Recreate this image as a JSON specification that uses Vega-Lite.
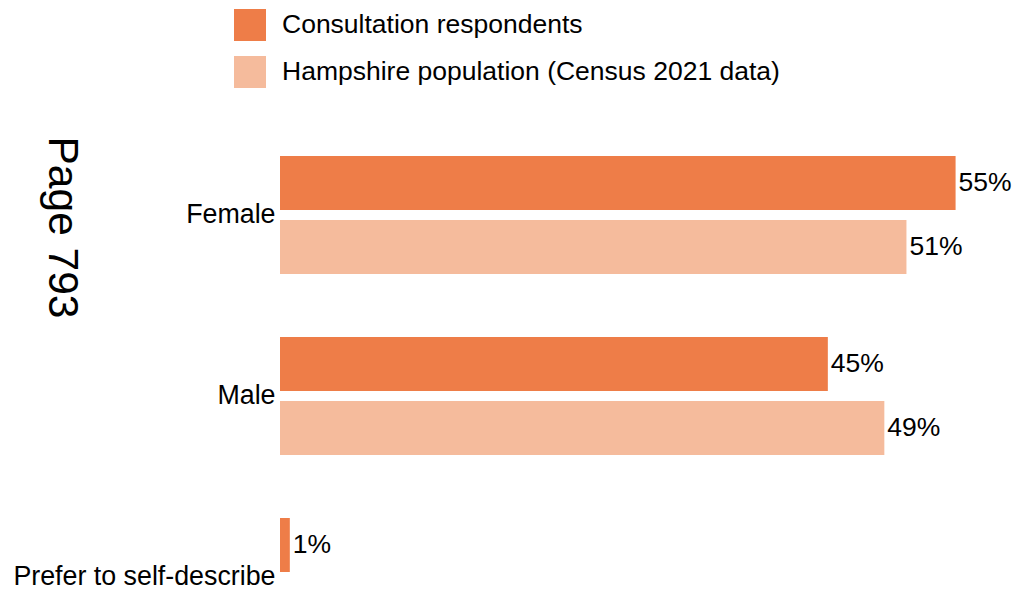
{
  "$schema": "https://vega.github.io/schema/vega-lite/v6.json",
  "autosize": {"type": "none"},
  "padding": {"left": 280, "top": 124.5, "right": 0, "bottom": 0},
  "width": 737,
  "height": 543,
  "background": "white",
  "config": {
    "view": {"stroke": null},
    "font": "Liberation Sans",
    "text": {"font": "Liberation Sans"}
  },
  "data": {
    "values": [
      {"gender": "Female", "series": "Consultation respondents", "pct": 55, "label": "55%"},
      {"gender": "Female", "series": "Hampshire population (Census 2021 data)", "pct": 51, "label": "51%"},
      {"gender": "Male", "series": "Consultation respondents", "pct": 44.6, "label": "45%"},
      {"gender": "Male", "series": "Hampshire population (Census 2021 data)", "pct": 49.2, "label": "49%"},
      {"gender": "Prefer to self-describe", "series": "Consultation respondents", "pct": 0.8, "label": "1%"}
    ]
  },
  "encoding": {
    "y": {
      "field": "gender",
      "type": "nominal",
      "sort": ["Female", "Male", "Prefer to self-describe"],
      "scale": {"paddingInner": 0.348, "paddingOuter": 0.174},
      "axis": {
        "title": "Page 793",
        "titleAngle": 90,
        "titleFontSize": 42.5,
        "titleFontWeight": "normal",
        "titleFont": "Liberation Sans",
        "titleColor": "#000000",
        "titleX": -219,
        "titleY": 102.5,
        "titleAlign": "center",
        "titleBaseline": "middle",
        "domain": false,
        "ticks": false,
        "tickSize": 0,
        "labelPadding": 5,
        "labelFontSize": 26.8,
        "labelFont": "Liberation Sans",
        "labelColor": "#000000",
        "labelLimit": 400
      }
    },
    "yOffset": {
      "field": "series",
      "type": "nominal",
      "sort": ["Consultation respondents", "Hampshire population (Census 2021 data)"],
      "scale": {"domain": ["Consultation respondents", "Hampshire population (Census 2021 data)"], "paddingInner": 0.156, "paddingOuter": 0}
    },
    "x": {
      "field": "pct",
      "type": "quantitative",
      "scale": {"domain": [0, 60], "nice": false},
      "axis": null
    }
  },
  "layer": [
    {
      "mark": {"type": "bar"},
      "encoding": {
        "color": {
          "field": "series",
          "type": "nominal",
          "scale": {
            "domain": ["Consultation respondents", "Hampshire population (Census 2021 data)"],
            "range": ["#EE7D48", "#F5BB9C"]
          },
          "legend": {
            "title": null,
            "orient": "none",
            "legendX": -46,
            "legendY": -115.5,
            "direction": "vertical",
            "symbolType": "square",
            "symbolSize": 1024,
            "symbolStrokeWidth": 0,
            "labelFontSize": 26.5,
            "labelFont": "Liberation Sans",
            "labelColor": "#000000",
            "labelOffset": 16,
            "labelLimit": 800,
            "rowPadding": 15,
            "padding": 0
          }
        }
      }
    },
    {
      "mark": {"type": "text", "align": "left", "baseline": "middle", "dx": 3, "fontSize": 26.5, "color": "#000000", "font": "Liberation Sans"},
      "encoding": {
        "text": {"field": "label"}
      }
    }
  ]
}
